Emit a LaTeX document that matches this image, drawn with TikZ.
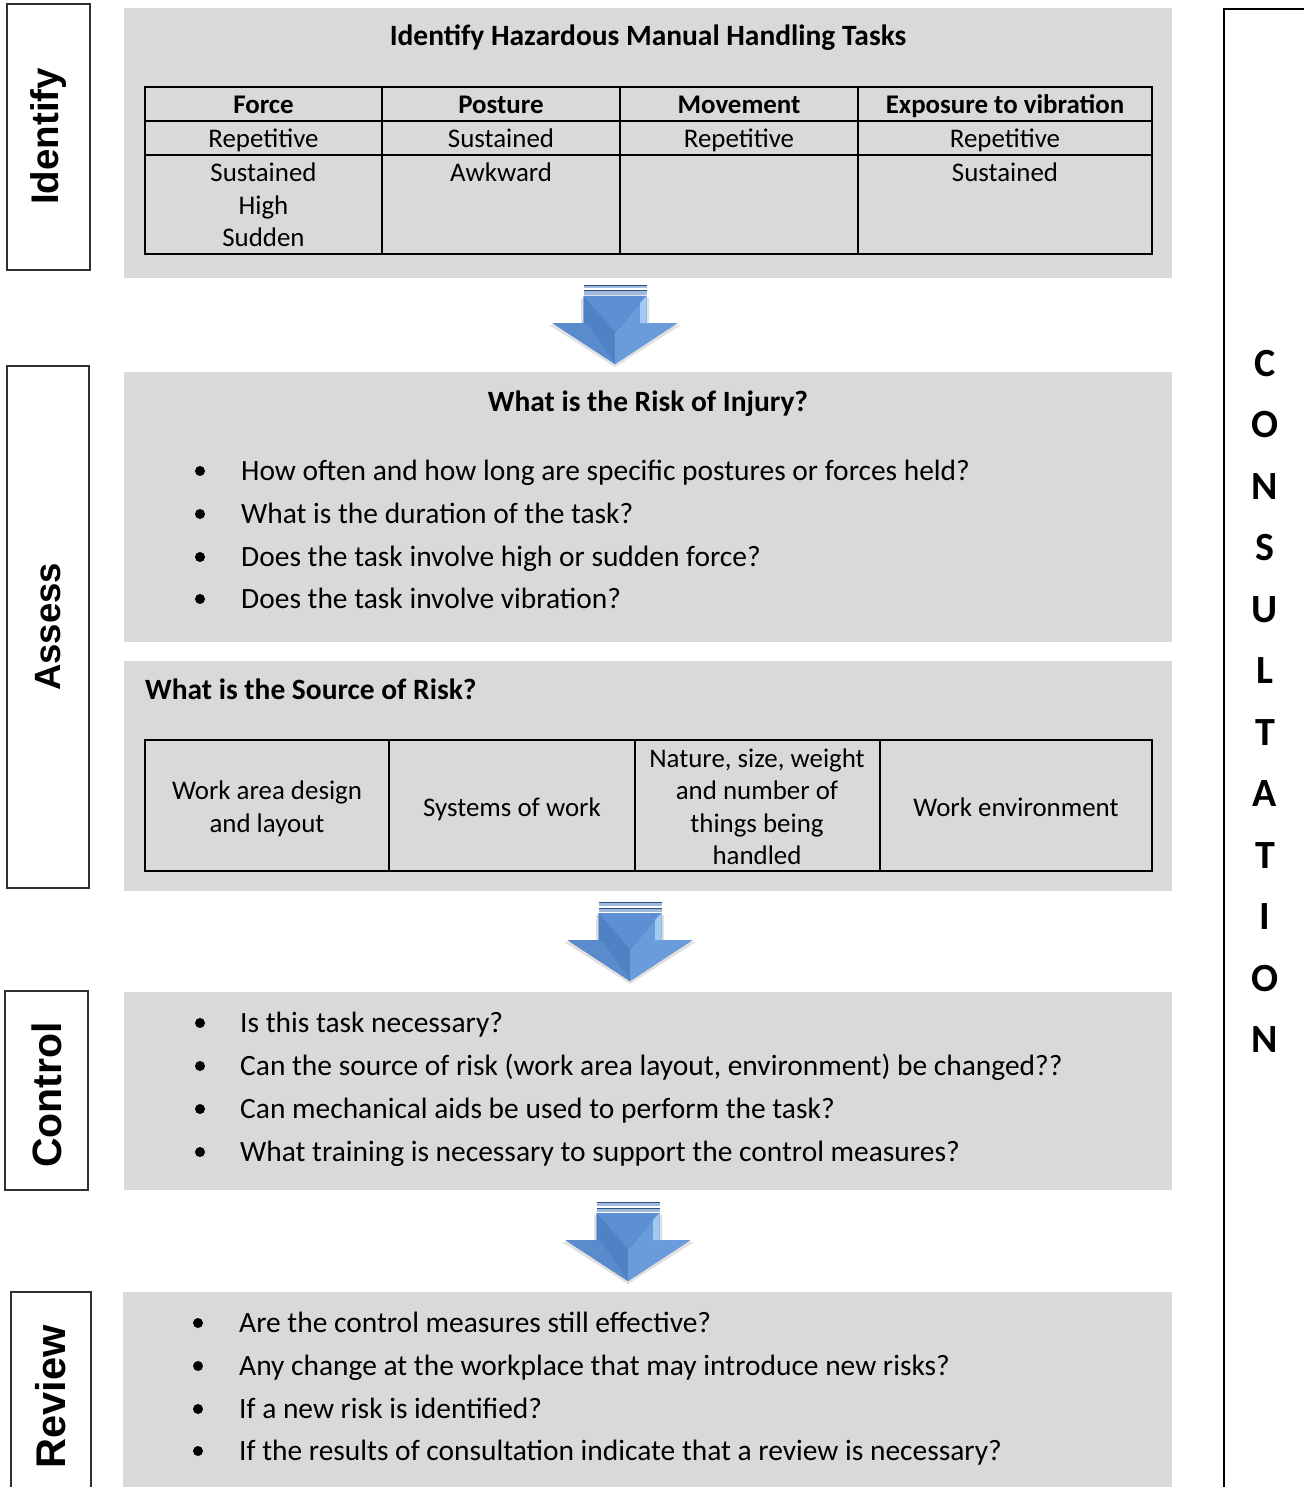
\documentclass[tikz,border=0pt]{standalone}
\usepackage{fontspec}
\setmainfont{Carlito}
\newfontfamily\arialfont{Liberation Sans}
\definecolor{panelgray}{HTML}{D9D9D9}
\definecolor{labgray}{HTML}{303030}
\definecolor{arrmain}{HTML}{5587C9}
\definecolor{arrtop}{HTML}{5D8FD2}
\definecolor{arrleft}{HTML}{4F82C5}
\definecolor{arrright}{HTML}{6A9CDB}
\definecolor{arrhi}{HTML}{A2C9F1}
\definecolor{arrwing}{HTML}{5A8CCD}
\definecolor{stripefill}{HTML}{A3BBDB}
\definecolor{stripeline}{HTML}{2F4F80}
\begin{document}
\begin{tikzpicture}[x=1pt,y=-1pt,
  panel/.style={fill=panelgray, draw=none},
  labbox/.style={draw=labgray, line width=1.5pt},
  labtext/.style={rotate=90, inner sep=0, font=\arialfont\bfseries\fontsize{#1}{#1}\selectfont},
  bodytext/.style={anchor=base west, inner sep=0, font=\fontsize{29.45}{35}\selectfont},
  titletext/.style={anchor=base, inner sep=0, font=\bfseries\fontsize{29.45}{35}\selectfont},
  celltext/.style={anchor=base, inner sep=0, font=\fontsize{26.9}{32}\selectfont},
  cellhead/.style={anchor=base, inner sep=0, font=\bfseries\fontsize{26.9}{32}\selectfont},
  tbl/.style={draw=black, line width=2pt},
  bul/.style={circle, fill=black, draw=none, inner sep=0, minimum size=10pt},
  constext/.style={inner sep=0, font=\bfseries\fontsize{40}{40}\selectfont},
  downarr/.pic={
    \fill[black, opacity=0.12] (-34,13) -- (34,13) -- (34,40) -- (66,40) -- (0,82) -- (-66,40) -- (-34,40) -- cycle;
    \fill[arrmain] (-31.5,11) -- (31.5,11) -- (31.5,38) -- (62.5,38) -- (0,79) -- (-62.5,38) -- (-31.5,38) -- cycle;
    \fill[arrleft] (-31.5,11) -- (0,48) -- (0,79) -- (-62.5,38) -- (-31.5,38) -- cycle;
    \fill[arrright] (31.5,11) -- (0,48) -- (0,79) -- (62.5,38) -- (31.5,38) -- cycle;
    \fill[arrtop] (-31.5,11) -- (31.5,11) -- (0,46) -- cycle;
    \fill[arrhi] (25,18) -- (31.5,11) -- (31.5,38) -- (25,38) -- cycle;
    \fill[arrwing] (-62.5,38) -- (-31.5,38) -- (-26,41) -- (0,79) -- cycle;
    \fill[stripefill] (-31.5,0) rectangle (31.5,3.5);
    \draw[stripeline, line width=1pt] (-31.5,0.5) -- (31.5,0.5);
    \fill[stripefill] (-31.5,5.5) rectangle (31.5,10);
    \draw[stripeline, line width=1pt] (-31.5,6) -- (31.5,6);
  }
]
\useasboundingbox (0,0) rectangle (1303,1487);

% ---------- gray panels ----------
\path[panel] (124,8) rectangle (1172,278);
\path[panel] (124,372) rectangle (1172,642);
\path[panel] (124,661) rectangle (1172,891);
\path[panel] (124,992) rectangle (1172,1190);
\path[panel] (123,1292) rectangle (1172,1490);

% ---------- side label boxes ----------
\draw[labbox] (7,4) rectangle (90,270);
\draw[labbox] (7,366) rectangle (89,888);
\draw[labbox] (5,991) rectangle (88,1190);
\draw[labbox] (11,1492) -- (11,1292) -- (91,1292) -- (91,1492);
\node[labtext=38.5] (lidentify) at (48.5,136.5) {Identify};
\node[labtext=36.5] (lassess) at (48,627) {Assess};
\node[labtext=41] (lcontrol) at (46.5,1095) {Control};
\node[labtext=41.5] (lreview) at (51,1397) {Review};

% ---------- consultation ----------
\draw[black, line width=2pt] (1224,1492) -- (1224,9) -- (1308,9);
\foreach \l/\yy [count=\i] in {C/364, O/425, N/487, S/548, U/610, L/671, T/733, A/794, T/856, I/917, O/979, N/1040}
  \node[constext] (cons\i) at (1265,\yy) {\l};

% ---------- panel 1: identify ----------
\node[titletext] (t1) at (648,46) {Identify Hazardous Manual Handling Tasks};
\draw[tbl] (145,87) rectangle (1152,254);
\draw[tbl] (145,121) -- (1152,121);
\draw[tbl] (145,155) -- (1152,155);
\draw[tbl] (382,87) -- (382,254);
\draw[tbl] (620,87) -- (620,254);
\draw[tbl] (858,87) -- (858,254);
\node[cellhead] (h1) at (263.5,114) {Force};
\node[cellhead] (h2) at (501,114) {Posture};
\node[cellhead] (h3) at (739,114) {Movement};
\node[cellhead] (h4) at (1005,114) {Exposure to vibration};
\node[celltext] (r1a) at (263.5,148) {Repetitive};
\node[celltext] (r1b) at (501,148) {Sustained};
\node[celltext] (r1c) at (739,148) {Repetitive};
\node[celltext] (r1d) at (1005,148) {Repetitive};
\node[celltext] (r2a) at (263.5,182) {Sustained};
\node[celltext] (r3a) at (263.5,215) {High};
\node[celltext] (r4a) at (263.5,247) {Sudden};
\node[celltext] (r2b) at (501,182) {Awkward};
\node[celltext] (r2d) at (1005,182) {Sustained};

% ---------- arrows ----------
\pic (arrow1) at (615,285) {downarr};
\pic (arrow2) at (630,902) {downarr};
\pic (arrow3) at (628,1202) {downarr};

% ---------- panel 2: risk of injury ----------
\node[titletext] (t2) at (648,411.5) {What is the Risk of Injury?};
\node[bul] (b21) at (200,471) {};
\node[bul] (b22) at (200,514) {};
\node[bul] (b23) at (200,557) {};
\node[bul] (b24) at (200,599) {};
\node[bodytext] (q21) at (241,480.5) {How often and how long are specific postures or forces held?};
\node[bodytext] (q22) at (241,523.5) {What is the duration of the task?};
\node[bodytext] (q23) at (241,566.5) {Does the task involve high or sudden force?};
\node[bodytext] (q24) at (241,608.5) {Does the task involve vibration?};

% ---------- panel 3: source of risk ----------
\node[titletext, anchor=base west] (t3) at (145,699.5) {What is the Source of Risk?};
\draw[tbl] (145,740) rectangle (1152,871);
\draw[tbl] (389,740) -- (389,871);
\draw[tbl] (635,740) -- (635,871);
\draw[tbl] (880,740) -- (880,871);
\node[celltext] (s1a) at (267,799.5) {Work area design};
\node[celltext] (s1b) at (267,832.5) {and layout};
\node[celltext] (s2) at (512,816) {Systems of work};
\node[celltext] (s3a) at (757,767.5) {Nature, size, weight};
\node[celltext] (s3b) at (757,799.5) {and number of};
\node[celltext] (s3c) at (757,832.5) {things being};
\node[celltext] (s3d) at (757,864.5) {handled};
\node[celltext] (s4) at (1016,816) {Work environment};

% ---------- panel 4: control ----------
\node[bul] (b41) at (200,1023) {};
\node[bul] (b42) at (200,1066) {};
\node[bul] (b43) at (200,1109) {};
\node[bul] (b44) at (200,1152) {};
\node[bodytext] (q41) at (240,1032.5) {Is this task necessary?};
\node[bodytext] (q42) at (240,1075.5) {Can the source of risk (work area layout, environment) be changed??};
\node[bodytext] (q43) at (240,1118.5) {Can mechanical aids be used to perform the task?};
\node[bodytext] (q44) at (240,1161.5) {What training is necessary to support the control measures?};

% ---------- panel 5: review ----------
\node[bul] (b51) at (198,1323) {};
\node[bul] (b52) at (198,1366) {};
\node[bul] (b53) at (198,1409) {};
\node[bul] (b54) at (198,1451) {};
\node[bodytext] (q51) at (239,1332.5) {Are the control measures still effective?};
\node[bodytext] (q52) at (239,1375.5) {Any change at the workplace that may introduce new risks?};
\node[bodytext] (q53) at (239,1418.5) {If a new risk is identified?};
\node[bodytext] (q54) at (239,1460.5) {If the results of consultation indicate that a review is necessary?};
\end{tikzpicture}
\end{document}
